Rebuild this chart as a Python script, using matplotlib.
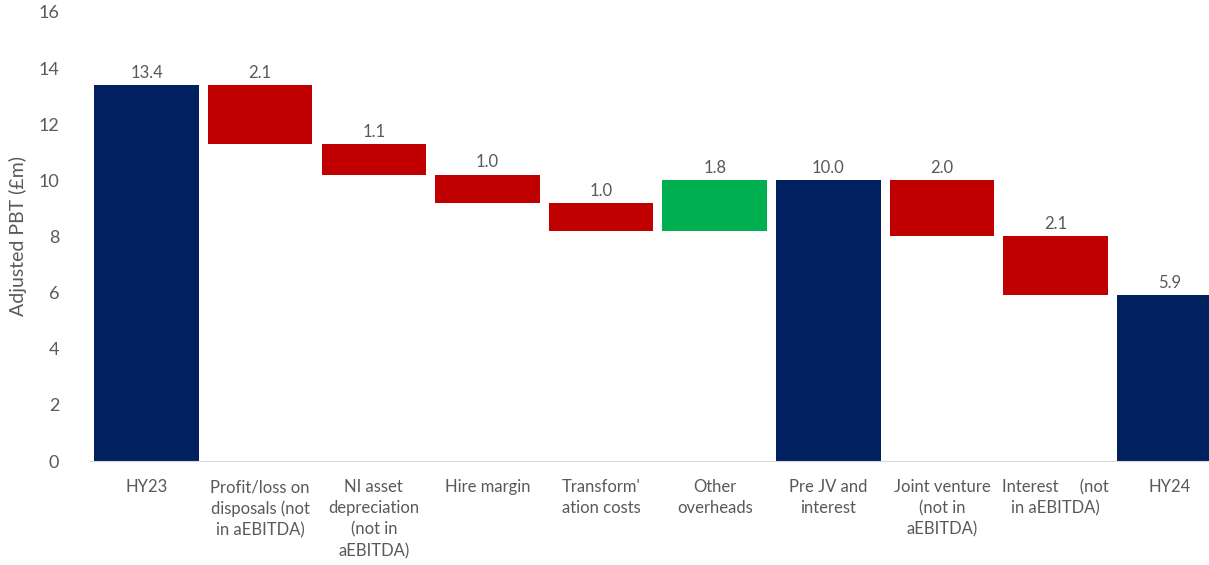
import numpy as np
import matplotlib.pyplot as plt

plt.rcParams['font.family'] = ['Lato', 'DejaVu Sans']

categories = ['HY23', 'Profit/loss on\ndisposals (not\nin aEBITDA)',
              'NI asset\ndepreciation\n(not in\naEBITDA)', 'Hire margin',
              "Transform'\nation costs", 'Other\noverheads', 'Pre JV and\ninterest',
              'Joint venture\n(not in\naEBITDA)', 'Interest     (not\nin aEBITDA)', 'HY24']
changes = [13.4, -2.1, -1.1, -1.0, -1.0, 1.8, None, -2.0, -2.1, None]
labels = ['13.4', '2.1', '1.1', '1.0', '1.0', '1.8', '10.0', '2.0', '2.1', '5.9']
totals_idx = [0, 6, 9]

navy = '#002060'
red = '#C00000'
green = '#00B050'
grey = '#595959'

bottoms, heights, colors = [], [], []
level = 0.0
for i, c in enumerate(changes):
    if i in totals_idx:
        if c is not None:
            level = c
        bottoms.append(0)
        heights.append(level)
        colors.append(navy)
    else:
        new = level + c
        bottoms.append(min(level, new))
        heights.append(abs(c))
        colors.append(green if c > 0 else red)
        level = new

fig = plt.figure(figsize=(12.09, 5.65), dpi=100)
ax = fig.add_axes([0.0742, 0.184, 0.940, 0.795])

x = np.arange(len(categories))
ax.bar(x, heights, bottom=bottoms, width=0.92, color=colors)

for xi, b, h, t in zip(x, bottoms, heights, labels):
    ax.text(xi, b + h + 0.15, t, ha='center', va='bottom', fontsize=12, color=grey)

ax.set_xlim(-0.5, len(categories) - 0.5)
ax.set_ylim(0, 16)
ax.set_yticks(np.arange(0, 17, 2))
ax.set_xticks(x)
ax.set_xticklabels(categories, fontsize=12, color=grey, linespacing=1.4, va='top')
ax.tick_params(axis='x', length=0, pad=13)
ax.tick_params(axis='y', length=0, pad=22, labelsize=13, labelcolor=grey)
for s in ['top', 'right', 'left']:
    ax.spines[s].set_visible(False)
ax.spines['bottom'].set_color('#D9D9D9')
ax.set_ylabel('Adjusted PBT (£m)', fontsize=14, color=grey, labelpad=8)

fig.savefig('out.png', dpi=100)
